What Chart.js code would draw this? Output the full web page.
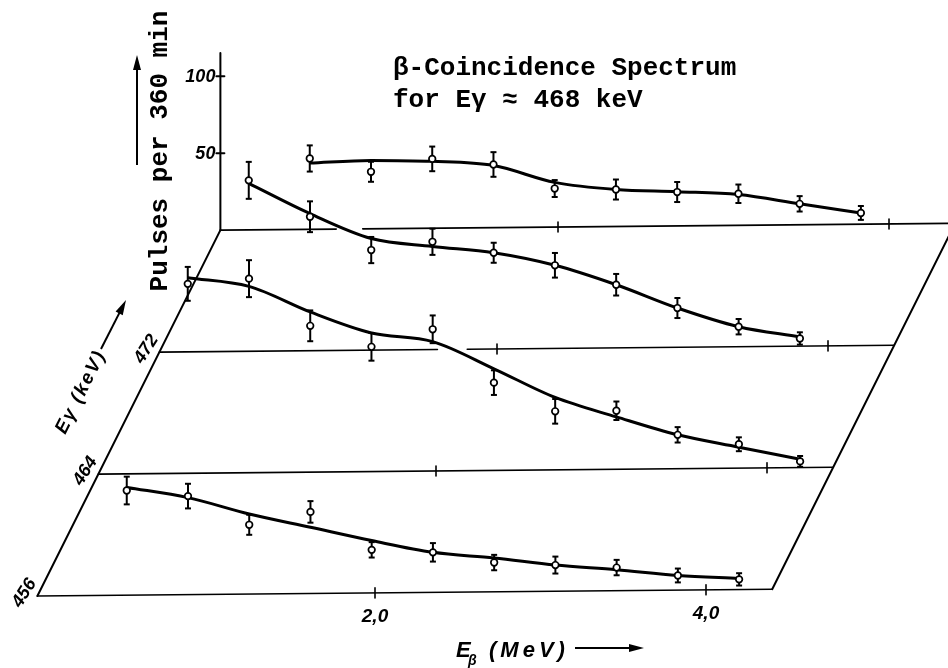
<!DOCTYPE html>
<html>
<head>
<meta charset="utf-8">
<script src="https://cdn.jsdelivr.net/npm/chart.js@4.4.0/dist/chart.umd.min.js"></script>
<style>
  html, body { margin: 0; padding: 0; background: #fff; }
  #chart { display: block; }
</style>
</head>
<body>
<canvas id="chart" width="948" height="668"></canvas>
<script>
// beta energy of the measured points (MeV)
const eBeta = [0.50, 0.87, 1.24, 1.61, 1.98, 2.35, 2.72, 3.09, 3.46, 3.83, 4.20];
// gamma energy of each slice (keV), front to back
const eGamma = [456, 464, 472, 480];
const eGammaLabels = ['456', '464', '472'];
const eBetaTicks = [2.0, 4.0];
const eBetaTickLabels = ['2,0', '4,0'];
const countTicks = [50, 100];
const countTickLabels = ['50', '100'];

// pulses per 360 min, error and fitted curve for each slice
const counts456 = [68, 64, 45, 53, 28, 26, 19, 17, 15, 9.5, 6.6];
const err456 = [9, 8, 6.5, 7, 5, 6, 5, 5.5, 5, 4.5, 4];
const fit456 = [70, 63, 52, 43, 34, 26, 22, 17, 13.6, 9.5, 7.3];

const counts464 = [123, 126, 95, 81, 92, 57, 38, 38, 22, 15.5, 4];
const err464 = [11, 12, 10, 9, 9, 8, 8, 6, 5, 4.5, 3.5];
const fit464 = [127, 121, 104, 90, 84, 66, 47, 34, 22, 13.6, 5.4];

const counts472 = [111, 87, 65, 70, 62.5, 54, 41, 25.5, 13, 5];
const err472 = [12, 10, 8.5, 8.5, 6.5, 8, 7, 6.5, 5, 4];
const fit472 = [109, 89, 72.5, 67, 62.5, 54, 41, 25.5, 13, 6];

const counts480 = [46, 37, 45, 41, 25, 24, 22, 20.5, 13.6, 7.3];
const err480 = [8.5, 6.5, 8, 8, 5.5, 6.5, 6.5, 6, 5, 4.5];
const fit480 = [43, 44.4, 43.4, 40.3, 29, 24, 22.2, 20, 13.6, 7.3];

const slices = [
    { counts: counts456, err: err456, fit: fit456 },
    { counts: counts464, err: err464, fit: fit464 },
    { counts: counts472, err: err472, fit: fit472 },
    { counts: counts480, err: err480, fit: fit480 }
];

// oblique projection: every slice is pushed right and up
const layerDE = 0.3686;   // MeV per slice
const layerDC = 79.2;     // counts per slice
const tilt = 1.0;         // counts per MeV
const eMin = -0.04, eMax = 4.40, axisTop = 115;

function proj(e, c, k) {
    return { x: e + k * layerDE, y: c + k * layerDC + e * tilt };
}

let datasets = [];
slices.forEach(function (s, k) {
    datasets.push({
        label: 'fit ' + eGamma[k],
        data: s.fit.map((c, i) => proj(eBeta[i], c, k)),
        showLine: true,
        borderColor: '#000',
        borderWidth: 3,
        pointRadius: 0,
        cubicInterpolationMode: 'monotone',
        order: 2
    });
    datasets.push({
        label: 'E\u03b3 = ' + eGamma[k] + ' keV',
        data: s.counts.map((c, i) => proj(eBeta[i], c, k)),
        showLine: false,
        pointStyle: 'circle',
        pointRadius: 3.3,
        pointBackgroundColor: '#fff',
        pointBorderColor: '#000',
        pointBorderWidth: 1.7,
        order: 1
    });
});

function line(ctx, a, b) {
    ctx.beginPath();
    ctx.moveTo(a[0], a[1]);
    ctx.lineTo(b[0], b[1]);
    ctx.stroke();
}

function arrow(ctx, a, b) {
    let ang = Math.atan2(b[1] - a[1], b[0] - a[0]);
    line(ctx, a, [b[0] - 10 * Math.cos(ang), b[1] - 10 * Math.sin(ang)]);
    ctx.beginPath();
    ctx.moveTo(b[0], b[1]);
    ctx.lineTo(b[0] - 15 * Math.cos(ang) + 4 * Math.sin(ang), b[1] - 15 * Math.sin(ang) - 4 * Math.cos(ang));
    ctx.lineTo(b[0] - 15 * Math.cos(ang) - 4 * Math.sin(ang), b[1] - 15 * Math.sin(ang) + 4 * Math.cos(ang));
    ctx.closePath();
    ctx.fill();
}

// gaps where a front curve hides a back baseline
const baseGaps = [null, null, [1.64, 1.82], [0.66, 0.82]];

const frame = {
    id: 'frame',
    beforeDatasetsDraw(chart) {
        const ctx = chart.ctx, sx = chart.scales.x, sy = chart.scales.y;
        const at = (e, c, k) => { let p = proj(e, c, k); return [sx.getPixelForValue(p.x), sy.getPixelForValue(p.y)]; };
        ctx.save();
        ctx.strokeStyle = '#000';
        ctx.fillStyle = '#000';
        ctx.lineCap = 'round';

        ctx.lineWidth = 1.6;
        eGamma.forEach(function (g, k) {
            let gap = baseGaps[k];
            let parts = gap ? [[eMin, gap[0]], [gap[1], eMax + (k == 3 ? 0.3 : 0)]] : [[eMin, eMax]];
            parts.forEach(p => line(ctx, at(p[0], 0, k), at(p[1], 0, k)));
            eBetaTicks.forEach(function (t) {
                let p = at(t, 0, k);
                line(ctx, [p[0], p[1] - 5], [p[0], p[1] + 5]);
            });
        });

        ctx.lineWidth = 2;
        line(ctx, at(eMin, 0, 0), at(eMin, 0, 3));
        line(ctx, at(eMax, 0, 0), at(eMax, 0, 3.3));
        line(ctx, at(eMin, 0, 3), at(eMin, axisTop, 3));
        countTicks.forEach(function (c) {
            let p = at(eMin, c, 3);
            line(ctx, [p[0] - 4, p[1]], [p[0] + 4, p[1]]);
        });

        // error bars
        ctx.lineWidth = 2;
        ctx.lineCap = 'butt';
        slices.forEach(function (s, k) {
            s.counts.forEach(function (c, i) {
                let top = at(eBeta[i], c + s.err[i], k);
                let bot = at(eBeta[i], c - s.err[i], k);
                line(ctx, top, bot);
                line(ctx, [top[0] - 3, top[1]], [top[0] + 3, top[1]]);
                line(ctx, [bot[0] - 3, bot[1]], [bot[0] + 3, bot[1]]);
            });
        });
        ctx.restore();
    },
    afterDraw(chart) {
        const ctx = chart.ctx, sx = chart.scales.x, sy = chart.scales.y;
        const at = (e, c, k) => { let p = proj(e, c, k); return [sx.getPixelForValue(p.x), sy.getPixelForValue(p.y)]; };
        ctx.save();
        ctx.fillStyle = '#000';
        ctx.strokeStyle = '#000';

        // title
        ctx.font = 'bold 26px "Liberation Mono"';
        ctx.textAlign = 'left';
        ctx.textBaseline = 'alphabetic';
        ctx.fillText('\u03b2-Coincidence Spectrum', 393, 75);
        ctx.fillText('for E\u03b3 \u2248 468 keV', 393, 107);

        // count axis title with arrow
        ctx.save();
        ctx.translate(167, 151);
        ctx.rotate(-Math.PI / 2);
        ctx.textAlign = 'center';
        ctx.fillText('Pulses per 360 min', 0, 0);
        ctx.restore();
        ctx.lineWidth = 2;
        arrow(ctx, [137, 165], [137, 55]);

        // count tick labels
        ctx.font = 'bold italic 18px "Liberation Sans"';
        ctx.textAlign = 'right';
        ctx.textBaseline = 'middle';
        countTicks.forEach(function (c, i) {
            let p = at(eMin, c, 3);
            ctx.fillText(countTickLabels[i], p[0] - 5, p[1] + 1);
        });

        // beta tick labels
        ctx.textAlign = 'center';
        ctx.font = 'bold italic 19px "Liberation Sans"';
        eBetaTicks.forEach(function (t, i) {
            let p = at(t, 0, 0);
            ctx.fillText(eBetaTickLabels[i], p[0], p[1] + 24);
        });

        // gamma tick labels along the oblique axis
        let a0 = at(eMin, 0, 0), a3 = at(eMin, 0, 3);
        let ang = Math.atan2(a3[1] - a0[1], a3[0] - a0[0]);
        ctx.font = 'bold italic 18px "Liberation Sans"';
        eGammaLabels.forEach(function (lab, k) {
            let p = at(eMin, 0, k);
            ctx.save();
            ctx.translate(p[0] - 13, p[1] - 3);
            ctx.rotate(-1.0);
            ctx.fillText(lab, 0, 0);
            ctx.restore();
        });

        // gamma axis title
        ctx.save();
        ctx.translate(81, 392);
        ctx.rotate(ang);
        ctx.font = 'bold italic 19px "Liberation Sans"';
        ctx.letterSpacing = '2px';
        ctx.fillText('E\u03b3 (keV)', 0, 0);
        ctx.restore();
        arrow(ctx, [101, 349], [126, 300]);

        // beta axis title
        ctx.textAlign = 'left';
        ctx.textBaseline = 'alphabetic';
        ctx.font = 'bold italic 22px "Liberation Sans"';
        ctx.fillText('E', 456, 657);
        ctx.font = 'bold italic 14px "Liberation Sans"';
        ctx.fillText('\u03b2', 468, 665);
        ctx.font = 'bold italic 22px "Liberation Sans"';
        ctx.letterSpacing = '4px';
        ctx.fillText('(MeV)', 489, 657);
        ctx.letterSpacing = '0px';
        arrow(ctx, [575, 648], [644, 648]);
        ctx.restore();
    }
};

const ctx = document.getElementById('chart').getContext('2d');
const chart = new Chart(ctx, {
    type: 'scatter',
    data: { datasets: datasets },
    options: {
        responsive: false,
        animation: false,
        layout: { padding: 0, autoPadding: false },
        scales: {
            x: { type: 'linear', display: false, min: -44 / 165.5, max: (948 - 44) / 165.5 },
            y: { type: 'linear', display: false, min: -72 / 1.54, max: -72 / 1.54 + 668 / 1.54 }
        },
        plugins: {
            legend: { display: false },
            tooltip: { enabled: false }
        }
    },
    plugins: [frame]
});
</script>
</body>
</html>
